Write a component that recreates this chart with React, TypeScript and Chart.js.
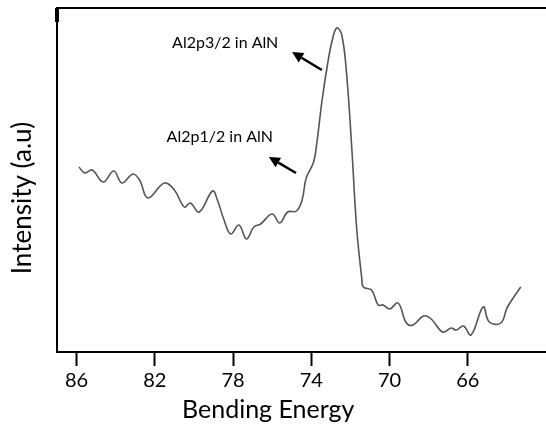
import React, { useEffect, useRef } from "react";
import { Chart, registerables } from "chart.js";

Chart.register(...registerables);

const energy = [
  85.88, 85.58, 85.2, 84.64, 84.1, 83.68, 83.12, 82.78, 82.35, 81.51, 81.0, 80.49, 80.19, 79.73,
  79.05, 78.8, 78.46, 78.12, 77.7, 77.31, 76.94, 76.59, 76.0, 75.61, 75.21, 74.76, 74.47, 74.26,
  73.88, 73.71, 73.46, 73.2, 72.95, 72.7, 72.44, 72.19, 71.93, 71.68, 71.42, 71.34, 70.92, 70.58,
  70.33, 69.99, 69.56, 69.14, 68.8, 68.26, 67.87, 67.28, 66.85, 66.59, 66.22, 65.83, 65.21, 64.9,
  64.31, 63.97, 63.29,
];
const intensity = [
  185, 179, 182, 170, 181, 169, 178, 172, 154, 169, 162, 145, 149, 140,
  161, 152, 132, 118, 127, 113, 125, 128, 138, 129, 140, 141, 152, 174,
  190, 210, 250, 284, 310, 324, 317, 277, 204, 124, 74, 65, 62, 47,
  47, 43, 49, 29, 27, 36, 33, 20, 24, 22, 26, 17, 45, 30,
  29, 45, 65,
];
const xTicks = [86, 82, 78, 74, 70, 66];
const xTitle = "Bending Energy";
const yTitle = "Intensity (a.u)";
const annotationLabels = ["Al2p3/2 in AlN", "Al2p1/2 in AlN"];
const labelAt = [
  [78.4, 309],
  [78.68, 215],
];
const arrowTail = [
  [73.46, 282],
  [74.78, 179],
];
const arrowHead = [
  [74.98, 300],
  [76.17, 195],
];
// x-title centre (energy) and y-title centre (intensity)
const xTitleAt = 76.2;
const yTitleAt = 154;

const FONT = "Lato, 'Open Sans', sans-serif";

export default function App() {
  const ref = useRef<HTMLCanvasElement>(null);
  useEffect(() => {
    if (!ref.current) return;
    const deco = {
      id: "deco",
      afterDatasetsDraw(chart: any) {
        const { ctx, chartArea, scales } = chart;
        const xs = scales.x;
        const ys = scales.y;
        ctx.save();
        // top border
        ctx.strokeStyle = "#000";
        ctx.lineWidth = 2;
        ctx.beginPath();
        ctx.moveTo(chartArea.left, chartArea.top);
        ctx.lineTo(chartArea.right, chartArea.top);
        ctx.stroke();
        // thick top-left mark
        ctx.lineWidth = 4;
        ctx.beginPath();
        ctx.moveTo(chartArea.left, chartArea.top);
        ctx.lineTo(chartArea.left, chartArea.top + 14);
        ctx.stroke();
        // axis titles
        ctx.fillStyle = "#000";
        ctx.textAlign = "center";
        ctx.textBaseline = "middle";
        ctx.font = `25px ${FONT}`;
        ctx.fillText(xTitle, xs.getPixelForValue(xTitleAt), chartArea.bottom + 58);
        ctx.save();
        ctx.translate(chartArea.left - 34, ys.getPixelForValue(yTitleAt));
        ctx.rotate(-Math.PI / 2);
        ctx.font = `26px ${FONT}`;
        ctx.fillText(yTitle, 0, 0);
        ctx.restore();
        // labels
        ctx.font = `16px ${FONT}`;
        annotationLabels.forEach((t, i) => {
          ctx.fillText(t, xs.getPixelForValue(labelAt[i][0]), ys.getPixelForValue(labelAt[i][1]));
        });
        // arrows
        arrowTail.forEach((tail, i) => {
          const x1 = xs.getPixelForValue(tail[0]);
          const y1 = ys.getPixelForValue(tail[1]);
          const x2 = xs.getPixelForValue(arrowHead[i][0]);
          const y2 = ys.getPixelForValue(arrowHead[i][1]);
          const ang = Math.atan2(y2 - y1, x2 - x1);
          const hl = 11;
          const hw = 5.5;
          const bx = x2 - hl * Math.cos(ang);
          const by = y2 - hl * Math.sin(ang);
          ctx.lineWidth = 2.5;
          ctx.beginPath();
          ctx.moveTo(x1, y1);
          ctx.lineTo(bx, by);
          ctx.stroke();
          ctx.beginPath();
          ctx.moveTo(x2, y2);
          ctx.lineTo(bx + hw * Math.sin(ang), by - hw * Math.cos(ang));
          ctx.lineTo(bx - hw * Math.sin(ang), by + hw * Math.cos(ang));
          ctx.closePath();
          ctx.fill();
        });
        ctx.restore();
      },
    };
    const chart = new Chart(ref.current, {
      type: "line",
      data: {
        datasets: [
          {
            data: energy.map((e, i) => ({ x: e, y: intensity[i] })),
            borderColor: "#555555",
            borderWidth: 1.6,
            pointRadius: 0,
            tension: 0.4,
            fill: false,
          },
        ],
      },
      options: {
        animation: false,
        responsive: true,
        maintainAspectRatio: false,
        layout: { padding: { top: 8, right: 0, left: 0, bottom: 0 } },
        plugins: { legend: { display: false }, tooltip: { enabled: false } },
        scales: {
          x: {
            type: "linear",
            reverse: true,
            min: 62,
            max: 87,
            afterBuildTicks: (s: any) => {
              s.ticks = xTicks.map((v) => ({ value: v }));
            },
            afterFit: (s: any) => {
              s.height = 78;
            },
            grid: {
              drawOnChartArea: false,
              drawTicks: true,
              tickLength: 14,
              tickColor: "#000",
              tickWidth: 2,
            },
            border: { display: true, color: "#000", width: 2 },
            ticks: {
              color: "#000",
              font: { family: FONT, size: 20 },
              padding: 3,
              maxRotation: 0,
              autoSkip: false,
            },
          },
          y: {
            min: 0,
            max: 344,
            afterFit: (s: any) => {
              s.width = 57;
            },
            grid: { drawOnChartArea: false, drawTicks: false },
            border: { display: true, color: "#000", width: 2 },
            ticks: { display: false },
          },
        },
      },
      plugins: [deco],
    });
    return () => chart.destroy();
  }, []);
  return (
    <div style={{ position: "fixed", left: 0, top: 0, width: 546, height: 430, background: "#fff" }}>
      <canvas ref={ref} />
    </div>
  );
}
